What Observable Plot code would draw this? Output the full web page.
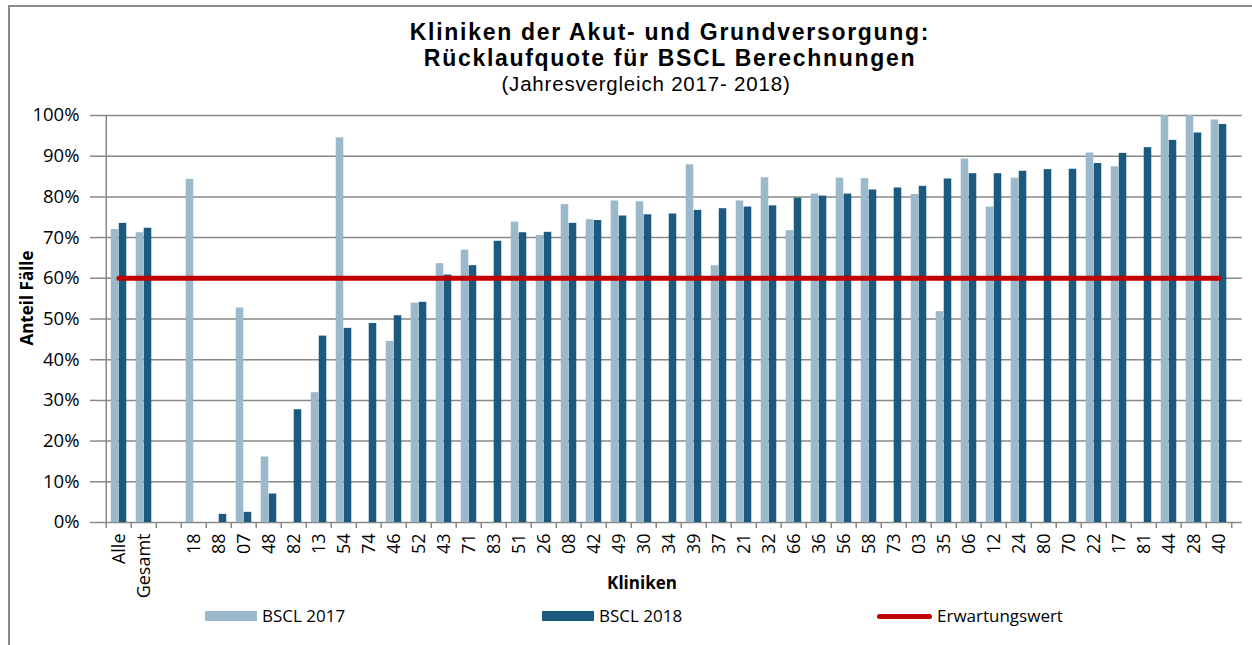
<!DOCTYPE html>
<html>
<head>
<meta charset="utf-8">
<script src="https://cdn.jsdelivr.net/npm/d3@7"></script>
<script src="https://cdn.jsdelivr.net/npm/@observablehq/plot@0.6"></script>
<style>
  html, body { margin: 0; padding: 0; background: #fff; }
  body { width: 1252px; height: 645px; position: relative; overflow: hidden; font-family: "Open Sans", sans-serif; color: #000; }
  .abs { position: absolute; white-space: nowrap; }
  #frame { position: absolute; left: 8px; top: 5px; width: 1260px; height: 660px; border-left: 2px solid #8a8a8a; border-top: 2px solid #8a8a8a; }
  .t1 { left: 0; width: 1340px; text-align: center; font-family: "Liberation Sans", Arial, sans-serif; font-weight: bold; font-size: 23px; line-height: 23px; letter-spacing: 1.7px; }
  .sub { left: 0; width: 1292px; text-align: center; font-family: "Liberation Sans", Arial, sans-serif; font-size: 20.5px; line-height: 20.5px; letter-spacing: 0.8px; }
  .sw { position: absolute; height: 10px; width: 52px; }
  .lg { position: absolute; font-size: 17px; line-height: 22px; top: 605px; }
  #chart { position: absolute; left: 0; top: 100px; }
</style>
</head>
<body>
<div id="frame"></div>
<div class="abs t1" style="top:20.8px">Kliniken der Akut- und Grundversorgung:</div>
<div class="abs t1" style="top:47.2px">Rücklaufquote für BSCL Berechnungen</div>
<div class="abs sub" style="top:73.7px">(Jahresvergleich 2017- 2018)</div>
<div class="abs" style="left:26px; top:298px; transform: translate(-50%,-50%) rotate(-90deg); font-weight:bold; font-size:17px; line-height:17px;">Anteil Fälle</div>
<div id="chart"></div>
<div class="abs" style="left:642px; top:574px; transform: translateX(-50%); font-weight:bold; font-size:17px; line-height:17px;">Kliniken</div>
<div class="sw" style="left:205px; top:611px; background:#9bb9ca;"></div>
<div class="lg" style="left:262px;">BSCL 2017</div>
<div class="sw" style="left:542px; top:611px; background:#1b5a7e;"></div>
<div class="lg" style="left:599px;">BSCL 2018</div>
<div class="sw" style="left:877px; top:613.5px; width:55px; height:5px; border-radius:2.5px; background:#c00000;"></div>
<div class="lg" style="left:937px;">Erwartungswert</div>
<script>
// ---- data ----
const categories = ["Alle","Gesamt"," ","18","88","07","48","82","13","54","74","46","52","43","71","83","51","26","08","42","49","30","34","39","37","21","32","66","36","56","58","73","03","35","06","12","24","80","70","22","17","81","44","28","40"];
const bscl2017 = [72.0,71.2,null,84.3,null,52.7,16.1,null,31.9,94.5,null,44.5,53.9,63.6,66.9,null,73.8,70.5,78.1,74.4,79.0,78.8,null,87.9,63.1,79.0,84.7,71.7,80.7,84.6,84.5,null,80.6,51.8,89.3,77.5,84.6,null,null,90.8,87.4,null,100,100,98.9];
const bscl2018 = [73.5,72.3,null,null,2.0,2.5,7.0,27.7,45.8,47.7,48.9,50.8,54.1,60.8,63.1,69.1,71.2,71.3,73.5,74.2,75.3,75.6,75.8,76.7,77.1,77.5,77.8,79.7,80.2,80.7,81.7,82.2,82.6,84.4,85.7,85.7,86.3,86.7,86.8,88.2,90.7,92.1,93.9,95.7,97.8];
const erwartungswert = 60;
const yTicks = [0,10,20,30,40,50,60,70,80,90,100];

// ---- layout ----
const W = 1252, H = 500, mL = 96, mR = 10.3;
const bw = (W - mL - mR) / categories.length;
const barW = 8;

const rows17 = categories.map((c, i) => ({c, v: bscl2017[i]}));
const rows18 = categories.map((c, i) => ({c, v: bscl2018[i]}));
const lineRows = categories.map(c => ({c, v: erwartungswert}));

const chart = Plot.plot({
  width: W, height: H,
  marginTop: 15, marginBottom: 78, marginLeft: mL, marginRight: mR,
  style: {fontFamily: "'Open Sans', sans-serif", fontSize: "18px", color: "#000", background: "transparent", overflow: "visible"},
  x: {domain: categories, padding: 0, axis: null},
  y: {domain: [0, 100], axis: null},
  marks: [
    Plot.gridY({ticks: yTicks, stroke: "#888", strokeOpacity: 1, strokeWidth: 1.5}),
    Plot.ruleX([categories[0]], {x: d => d, dx: -bw / 2, stroke: "#888", strokeWidth: 1.5}),
    Plot.axisY({ticks: yTicks, tickSize: 6, tickPadding: 11, tickFormat: d => d + "%", stroke: "#888", strokeWidth: 1.5, label: null, fontSize: 18.5}),
    Plot.axisX({tickSize: 6, tickFormat: () => "", dx: -bw / 2, stroke: "#888", strokeWidth: 1.5, label: null}),
    Plot.axisX({ticks: [categories[categories.length - 1]], tickSize: 6, tickFormat: () => "", dx: bw / 2, stroke: "#888", strokeWidth: 1.5, label: null}),
    Plot.axisX({tickSize: 0, tickPadding: 11, tickRotate: -90, tickFormat: d => d.trim(), label: null, fontSize: 18}),
    Plot.barY(rows17, {x: "c", y: "v", fill: "#9bb9ca", insetLeft: bw / 2 - barW, insetRight: bw / 2}),
    Plot.barY(rows18, {x: "c", y: "v", fill: "#1b5a7e", insetLeft: bw / 2, insetRight: bw / 2 - barW}),
    Plot.lineY(lineRows, {x: "c", y: "v", stroke: "#c00000", strokeWidth: 5, strokeLinecap: "round"})
  ]
});
document.getElementById("chart").appendChild(chart);
</script>
</body>
</html>
